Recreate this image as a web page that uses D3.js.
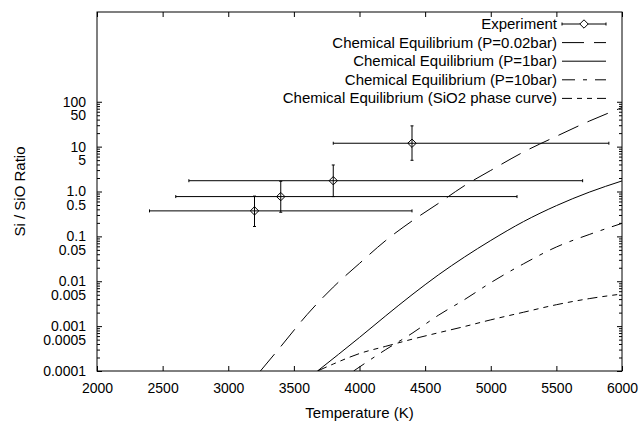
<!DOCTYPE html>
<html lang="en">
<head>
    <meta charset="UTF-8">
    <title>Si / SiO Ratio vs Temperature</title>
    <script src="https://d3js.org/d3.v7.min.js"></script>
    <style>
        body { margin: 0; background: #fff; }
        text { font-family: "Liberation Sans", Arial, Helvetica, sans-serif; font-size: 15px; fill: #000; }
        .tick text { font-size: 14px; }
    </style>
</head>
<body>
    <script>
        // x axis ticks
        const xTicks = [2000, 2500, 3000, 3500, 4000, 4500, 5000, 5500, 6000];

        // y axis labelled ticks
        const yTickValues = [0.0001, 0.0005, 0.001, 0.005, 0.01, 0.05, 0.1, 0.5, 1, 5, 10, 50, 100];
        const yTickLabels = ["0.0001", "0.0005", "0.001", "0.005", "0.01", "0.05", "0.1", "0.5", "1.0", "5", "10", "50", "100"];

        // experiment points with error ranges
        const expTemp = [3200, 3400, 3800, 4400];
        const expTempLow = [2400, 2600, 2700, 3800];
        const expTempHigh = [4400, 5200, 5700, 5900];
        const expRatio = [0.37, 0.77, 1.74, 11.9];
        const expRatioLow = [0.166, 0.345, 0.77, 4.96];
        const expRatioHigh = [0.79, 1.69, 3.9, 29];

        // chemical equilibrium curves
        const tempLowP = [3245, 3400, 3600, 3800, 4000, 4200, 4400, 4600, 4800, 5000, 5250, 5500, 5750, 6000];
        const ratioLowP = [1e-4, 3.5e-4, 1.8e-3, 7.4e-3, 0.025, 0.081, 0.22, 0.54, 1.35, 2.95, 7.6, 17, 37, 74];

        const temp1bar = [3680, 4000, 4200, 4400, 4600, 4800, 5000, 5250, 5500, 5750, 6000];
        const ratio1bar = [1e-4, 5.6e-4, 1.7e-3, 5.0e-3, 0.0138, 0.0347, 0.081, 0.214, 0.484, 0.966, 1.72];

        const temp10bar = [3955, 4200, 4400, 4600, 4800, 5000, 5250, 5500, 5750, 6000];
        const ratio10bar = [1e-4, 3.0e-4, 6.9e-4, 1.74e-3, 3.9e-3, 9.3e-3, 0.0245, 0.058, 0.11, 0.195];

        const tempPhase = [3680, 3800, 4000, 4200, 4400, 4600, 4800, 5000, 5250, 5500, 5750, 6000];
        const ratioPhase = [1e-4, 1.43e-4, 2.45e-4, 3.55e-4, 5.1e-4, 7.1e-4, 9.8e-4, 1.38e-3, 2.04e-3, 3.0e-3, 4.1e-3, 5.2e-3];

        const legendNames = [
            "Experiment",
            "Chemical Equilibrium (P=0.02bar)",
            "Chemical Equilibrium (P=1bar)",
            "Chemical Equilibrium (P=10bar)",
            "Chemical Equilibrium (SiO2 phase curve)"
        ];

        const width = 640, height = 423;
        const plotLeft = 97, plotRight = 622, plotTop = 12, plotBottom = 371;

        const svg = d3.select("body").append("svg")
            .attr("width", width)
            .attr("height", height);

        const x = d3.scaleLinear().domain([2000, 6000]).range([plotLeft, plotRight]);
        const y = d3.scaleLog().domain([1e-4, 1e4]).range([plotBottom, plotTop]);

        // minor ticks 2..9 per decade, from 1e-4 up to 100
        const minorTicks = [];
        for (let e = -4; e < 2; e++) {
            for (let m = 2; m <= 9; m++) minorTicks.push(m * Math.pow(10, e));
        }
        const majorTicks = d3.range(-4, 3).map(e => Math.pow(10, e));

        const labelFor = v => {
            const i = yTickValues.findIndex(t => Math.abs(t - v) / v < 1e-6);
            return i >= 0 ? yTickLabels[i] : "";
        };
        const isMajor = v => majorTicks.some(t => Math.abs(t - v) / v < 1e-6);

        // axes (ticks point inward)
        svg.append("g")
            .attr("transform", `translate(0,${plotBottom})`)
            .call(d3.axisBottom(x).tickValues(xTicks).tickSize(-5).tickSizeOuter(0).tickPadding(12).tickFormat(d3.format("d")))
            .call(g => g.select(".domain").remove());

        svg.append("g")
            .attr("transform", `translate(0,${plotTop})`)
            .call(d3.axisTop(x).tickValues(xTicks).tickSize(-5).tickSizeOuter(0).tickFormat(""))
            .call(g => g.select(".domain").remove());

        const allY = majorTicks.concat(minorTicks);

        svg.append("g")
            .attr("transform", `translate(${plotLeft},0)`)
            .call(d3.axisLeft(y).tickValues(allY).tickSize(-3).tickSizeOuter(0).tickPadding(11).tickFormat(labelFor))
            .call(g => g.select(".domain").remove())
            .call(g => g.selectAll(".tick line").attr("x2", d => isMajor(d) ? 5 : 3));

        svg.append("g")
            .attr("transform", `translate(${plotRight},0)`)
            .call(d3.axisRight(y).tickValues(allY).tickSize(-3).tickSizeOuter(0).tickFormat(""))
            .call(g => g.select(".domain").remove())
            .call(g => g.selectAll(".tick line").attr("x2", d => isMajor(d) ? -5 : -3));

        svg.selectAll("g[font-size]").attr("font-size", null).attr("font-family", null);
        svg.selectAll(".tick line").attr("stroke", "#000");

        // border
        svg.append("rect")
            .attr("x", plotLeft).attr("y", plotTop)
            .attr("width", plotRight - plotLeft).attr("height", plotBottom - plotTop)
            .attr("fill", "none").attr("stroke", "#000").attr("stroke-width", 1);

        // axis titles
        svg.append("text")
            .attr("x", (plotLeft + plotRight) / 2).attr("y", 418)
            .attr("text-anchor", "middle")
            .text("Temperature (K)");

        svg.append("text")
            .attr("transform", `translate(25,${(plotTop + plotBottom) / 2}) rotate(-90)`)
            .attr("text-anchor", "middle")
            .text("Si / SiO Ratio");

        // clip to plot area
        svg.append("clipPath").attr("id", "plotClip")
            .append("rect")
            .attr("x", plotLeft).attr("y", plotTop)
            .attr("width", plotRight - plotLeft).attr("height", plotBottom - plotTop);

        const plot = svg.append("g").attr("clip-path", "url(#plotClip)");

        const line = d3.line()
            .x(d => x(d[0]))
            .y(d => y(d[1]))
            .curve(d3.curveMonotoneX);

        const curves = [
            { t: tempLowP, r: ratioLowP, dash: "22,10" },
            { t: temp1bar, r: ratio1bar, dash: null },
            { t: temp10bar, r: ratio10bar, dash: "13,8,4,8" },
            { t: tempPhase, r: ratioPhase, dash: "10,5,5,5,5,5" }
        ];

        curves.forEach(c => {
            plot.append("path")
                .datum(d3.zip(c.t, c.r))
                .attr("d", line)
                .attr("fill", "none")
                .attr("stroke", "#000")
                .attr("stroke-width", 1)
                .attr("stroke-dasharray", c.dash);
        });

        // experiment error bars
        const cap = 1.5;
        const pts = expTemp.map((t, i) => ({
            t, r: expRatio[i],
            tl: expTempLow[i], th: expTempHigh[i],
            rl: expRatioLow[i], rh: expRatioHigh[i]
        }));

        const eb = plot.selectAll(".err").data(pts).enter().append("g")
            .attr("stroke", "#000").attr("stroke-width", 1).attr("fill", "none");

        eb.append("line")
            .attr("x1", d => x(d.tl)).attr("x2", d => x(d.th))
            .attr("y1", d => y(d.r)).attr("y2", d => y(d.r));
        eb.append("line")
            .attr("x1", d => x(d.tl)).attr("x2", d => x(d.tl))
            .attr("y1", d => y(d.r) - cap).attr("y2", d => y(d.r) + cap);
        eb.append("line")
            .attr("x1", d => x(d.th)).attr("x2", d => x(d.th))
            .attr("y1", d => y(d.r) - cap).attr("y2", d => y(d.r) + cap);
        eb.append("line")
            .attr("x1", d => x(d.t)).attr("x2", d => x(d.t))
            .attr("y1", d => y(d.rl)).attr("y2", d => y(d.rh));
        eb.append("line")
            .attr("x1", d => x(d.t) - cap).attr("x2", d => x(d.t) + cap)
            .attr("y1", d => y(d.rl)).attr("y2", d => y(d.rl));
        eb.append("line")
            .attr("x1", d => x(d.t) - cap).attr("x2", d => x(d.t) + cap)
            .attr("y1", d => y(d.rh)).attr("y2", d => y(d.rh));

        const diamond = d3.symbol().type(d3.symbolDiamond2).size(45);
        eb.append("path")
            .attr("transform", d => `translate(${x(d.t)},${y(d.r)})`)
            .attr("d", diamond);

        // legend
        const legendY0 = 24, legendStep = 18.6;
        const textRight = 557, sampleX1 = 562, sampleX2 = 606;

        const legend = svg.append("g");
        legendNames.forEach((name, i) => {
            const ly = legendY0 + i * legendStep;
            legend.append("text")
                .attr("x", textRight).attr("y", ly + 5)
                .attr("text-anchor", "end")
                .text(name);
            if (i === 0) {
                const lg = legend.append("g").attr("stroke", "#000").attr("fill", "none");
                lg.append("line").attr("x1", sampleX1).attr("x2", sampleX2).attr("y1", ly).attr("y2", ly);
                lg.append("line").attr("x1", sampleX1).attr("x2", sampleX1).attr("y1", ly - cap).attr("y2", ly + cap);
                lg.append("line").attr("x1", sampleX2).attr("x2", sampleX2).attr("y1", ly - cap).attr("y2", ly + cap);
                lg.append("path")
                    .attr("transform", `translate(${(sampleX1 + sampleX2) / 2},${ly})`)
                    .attr("d", diamond)
                    .attr("fill", "#fff");
            } else {
                legend.append("line")
                    .attr("x1", sampleX1).attr("x2", sampleX2)
                    .attr("y1", ly).attr("y2", ly)
                    .attr("stroke", "#000")
                    .attr("stroke-dasharray", curves[i - 1].dash);
            }
        });
    </script>
</body>
</html>
